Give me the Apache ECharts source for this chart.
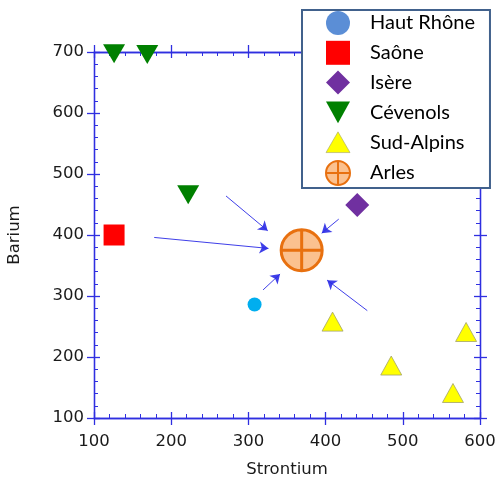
<!DOCTYPE html>
<html>
<head>
<meta charset="utf-8">
<script src="https://cdn.jsdelivr.net/npm/echarts@6/dist/echarts.min.js"></script>
<style>
  html, body { margin: 0; padding: 0; background: #fff; }
  #chart { width: 495px; height: 477px; }
</style>
</head>
<body>
<div id="chart"></div>
<script>
// values: [strontium, barium]
var hautRhone = [[308, 286]];
var saone = [[126, 400]];
var isere = [[441, 449]];
var cevenols = [[126, 697], [169, 696], [222, 466]];
var sudAlpins = [[409, 258], [485, 186], [565, 141], [582, 241]];
var arles = [[369, 375]];

// arrows pointing at Arles: [start, end]
var arrows = [
    [[271, 464], [325, 407]],
    [[178, 396], [326, 378]],
    [[319, 310], [341, 336]],
    [[417, 426], [395, 403]],
    [[454, 276], [402, 326]]
];

var axisBlue = '#2f2fe0';
var labelFont = { color: '#1a1a1a', fontSize: 16.5, fontFamily: 'DejaVu Sans' };

// one axis draws the outer half of the major ticks, a second one the inner half + minor ticks
function makeAxis(dim, position, inside, withLabel) {
    var ax = {
        type: 'value',
        position: position,
        min: 100,
        max: dim === 'x' ? 600 : 700,
        interval: 100,
        axisLine: { show: true, onZero: false, lineStyle: { color: axisBlue, width: 1.3 } },
        axisTick: { show: true, inside: inside, length: inside ? 6 : 7, lineStyle: { color: axisBlue, width: 1.3 } },
        minorTick: { show: inside, splitNumber: 5, length: 4, lineStyle: { color: axisBlue, width: 1 } },
        splitLine: { show: false },
        axisLabel: { show: false }
    };
    if (withLabel) {
        ax.axisLabel = Object.assign({ show: true, margin: dim === 'x' ? 15 : 10 }, labelFont);
        ax.name = dim === 'x' ? 'Strontium' : 'Barium';
        ax.nameLocation = 'middle';
        ax.nameGap = dim === 'x' ? 43 : 71;
        ax.nameTextStyle = labelFont;
    }
    return ax;
}

var chart = echarts.init(document.getElementById('chart'));

var option = {
    animation: false,
    grid: { left: 94, right: 15, top: 52, bottom: 59, containLabel: false, outerBoundsMode: 'none' },
    xAxis: [
        makeAxis('x', 'bottom', false, true),
        makeAxis('x', 'bottom', true, false),
        makeAxis('x', 'top', false, false),
        makeAxis('x', 'top', true, false)
    ],
    yAxis: [
        makeAxis('y', 'left', false, true),
        makeAxis('y', 'left', true, false),
        makeAxis('y', 'right', false, false),
        makeAxis('y', 'right', true, false)
    ],
    legend: {
        orient: 'vertical',
        left: 302,
        top: 10,
        padding: [1, 15, 2, 23],
        itemWidth: 24,
        itemHeight: 24,
        itemGap: 5.8,
        backgroundColor: '#fff',
        borderColor: '#41618c',
        borderWidth: 2,
        borderRadius: 0,
        textStyle: { color: '#000', fontSize: 20, fontFamily: 'Lato', lineHeight: 24, padding: [0, 0, 0, 15] },
        data: [
            { name: 'Haut Rhône', itemStyle: { color: '#5b8ed6' } },
            'Saône', 'Isère',
            { name: 'Cévenols', icon: 'path://M0,0L22,0L11,20Z' },
            { name: 'Sud-Alpins', icon: 'path://M11,0L22,19L0,19Z', itemStyle: { borderWidth: 0.6 } },
            'Arles'
        ]
    },
    series: [
        {
            name: 'Haut Rhône', type: 'scatter', data: hautRhone,
            symbol: 'circle', symbolSize: 14,
            itemStyle: { color: '#00aeef', opacity: 1 }
        },
        {
            name: 'Saône', type: 'scatter', data: saone,
            symbol: 'rect', symbolSize: 21,
            itemStyle: { color: '#ff0000', opacity: 1 }
        },
        {
            name: 'Isère', type: 'scatter', data: isere,
            symbol: 'diamond', symbolSize: 24,
            itemStyle: { color: '#7030a0', opacity: 1 }
        },
        {
            name: 'Cévenols', type: 'scatter', data: cevenols,
            symbol: 'triangle', symbolSize: [22, 19], symbolRotate: 180,
            itemStyle: { color: '#008000', opacity: 1 }
        },
        {
            name: 'Sud-Alpins', type: 'scatter', data: sudAlpins,
            symbol: 'triangle', symbolSize: [21, 19],
            itemStyle: { color: '#ffff00', borderColor: '#a3a36a', borderWidth: 0.8, opacity: 1 }
        },
        {
            name: 'Arles', type: 'scatter', data: arles,
            symbol: 'path://M-20,0A20,20,0,1,1,20,0A20,20,0,1,1,-20,0ZM0,-20L0,20M-20,0L20,0',
            symbolSize: 41,
            itemStyle: { color: '#fbc18f', borderColor: '#e8700f', borderWidth: 3, opacity: 1 }
        },
        {
            name: 'arrows', type: 'scatter', data: [],
            markLine: {
                silent: true,
                symbol: ['none', 'arrow'],
                symbolSize: 9,
                label: { show: false },
                lineStyle: { color: '#2a2ae6', width: 1, type: 'solid', opacity: 0.9 },
                emphasis: { disabled: true },
                data: arrows.map(function (a) {
                    return [{ coord: a[0] }, { coord: a[1] }];
                })
            }
        }
    ]
};

chart.setOption(option);
</script>
</body>
</html>
